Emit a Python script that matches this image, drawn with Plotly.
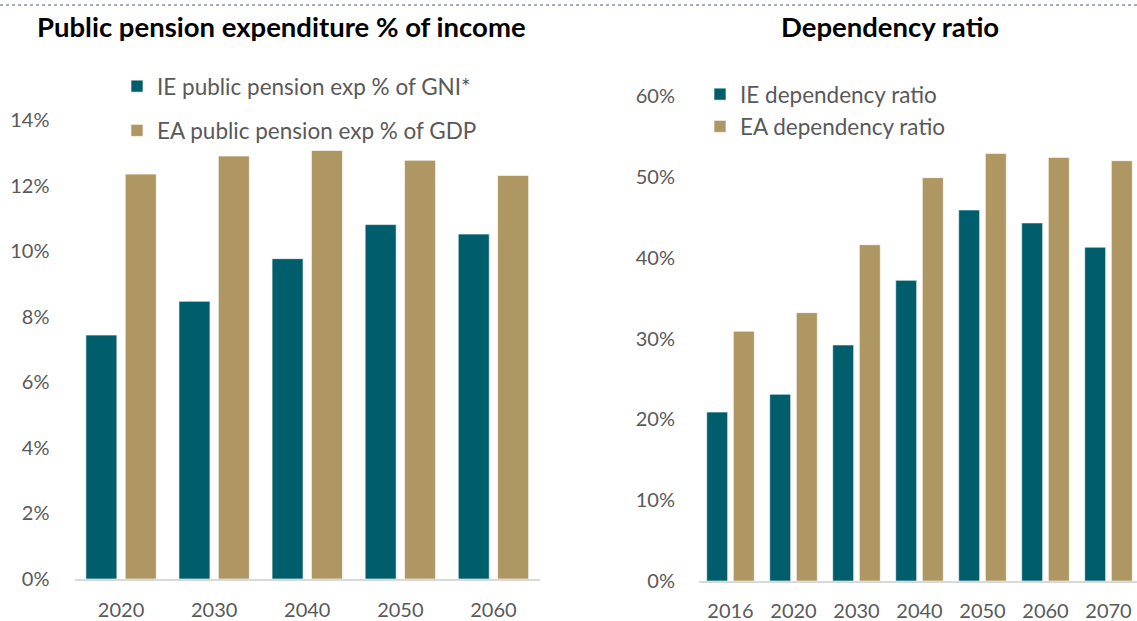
import plotly.graph_objects as go

# Public pension expenditure, % of national income
pension_years = ["2020", "2030", "2040", "2050", "2060"]
ie_pension_gni = [7.44, 8.47, 9.77, 10.81, 10.52]
ea_pension_gdp = [12.35, 12.90, 13.07, 12.77, 12.31]

# Old-age dependency ratio, %
dep_years = ["2016", "2020", "2030", "2040", "2050", "2060", "2070"]
ie_dependency = [20.9, 23.1, 29.2, 37.2, 45.9, 44.3, 41.3]
ea_dependency = [30.9, 33.2, 41.6, 49.9, 52.9, 52.4, 52.0]

pension_ticks = [0, 2, 4, 6, 8, 10, 12, 14]
dep_ticks = [0, 10, 20, 30, 40, 50, 60]

TEAL = "#005E6C"
GOLD = "#AE9762"
GREY_TXT = "#595959"
FONT = "Lato"

W, H = 1137, 621

BAR_W = 0.333
IE_OFF = -0.378
EA_OFF = 0.045

fig = go.Figure()

fig.add_trace(go.Bar(
    x=pension_years, y=ie_pension_gni, name="IE public pension exp % of GNI*",
    marker=dict(color=TEAL, line=dict(color="rgba(255,255,255,0.6)", width=1)),
    width=BAR_W, offset=IE_OFF, xaxis="x", yaxis="y",
    legend="legend", legendgroup="a",
))
fig.add_trace(go.Bar(
    x=pension_years, y=ea_pension_gdp, name="EA public pension exp % of GDP",
    marker=dict(color=GOLD, line=dict(color="rgba(255,255,255,0.6)", width=1)),
    width=BAR_W, offset=EA_OFF, xaxis="x", yaxis="y",
    legend="legend", legendgroup="b",
))
fig.add_trace(go.Bar(
    x=dep_years, y=ie_dependency, name="IE dependency ratio",
    marker=dict(color=TEAL, line=dict(color="rgba(255,255,255,0.6)", width=1)),
    width=BAR_W, offset=IE_OFF, xaxis="x2", yaxis="y2",
    legend="legend2", legendgroup="c",
))
fig.add_trace(go.Bar(
    x=dep_years, y=ea_dependency, name="EA dependency ratio",
    marker=dict(color=GOLD, line=dict(color="rgba(255,255,255,0.6)", width=1)),
    width=BAR_W, offset=EA_OFF, xaxis="x2", yaxis="y2",
    legend="legend2", legendgroup="d",
))

axis_common = dict(
    showgrid=False, zeroline=False, automargin=False,
    tickfont=dict(family=FONT, size=20, color=GREY_TXT),
)

fig.update_layout(
    width=W, height=H,
    margin=dict(l=0, r=0, t=0, b=0, autoexpand=False),
    paper_bgcolor="white", plot_bgcolor="white",
    barmode="overlay",
    font=dict(family=FONT, color=GREY_TXT),
    xaxis=dict(
        domain=[74.5 / W, 540 / W], type="category", range=[-0.5, 4.5],
        showline=True, linecolor="#D9D9D9", linewidth=1.5,
        ticks="outside", ticklen=12, tickcolor="rgba(0,0,0,0)",
        anchor="y", **axis_common,
    ),
    yaxis=dict(
        domain=[1 - 579 / H, 1 - 120 / H], range=[0, 14],
        tickvals=pension_ticks, ticktext=[f"{v}%" for v in pension_ticks],
        showline=False, ticks="outside", ticklen=20, tickcolor="rgba(0,0,0,0)",
        anchor="x", **axis_common,
    ),
    xaxis2=dict(
        domain=[699 / W, 1.0], type="category", range=[-0.5, 6.5 - 3 / 63],
        showline=True, linecolor="#D9D9D9", linewidth=1.5,
        ticks="outside", ticklen=11, tickcolor="rgba(0,0,0,0)",
        anchor="y2", **axis_common,
    ),
    yaxis2=dict(
        domain=[1 - 581 / H, 1 - 96 / H], range=[0, 60],
        tickvals=dep_ticks, ticktext=[f"{v}%" for v in dep_ticks],
        showline=False, ticks="outside", ticklen=19, tickcolor="rgba(0,0,0,0)",
        anchor="x2", **axis_common,
    ),
    legend=dict(
        x=117 / W, y=1 - 65 / H, xanchor="left", yanchor="top",
        orientation="v", tracegroupgap=12,
        font=dict(family=FONT, size=22.5, color=GREY_TXT),
        bgcolor="rgba(0,0,0,0)",
    ),
    legend2=dict(
        x=700 / W, y=1 - 73 / H, xanchor="left", yanchor="top",
        orientation="v", tracegroupgap=0,
        font=dict(family=FONT, size=22.5, color=GREY_TXT),
        bgcolor="rgba(0,0,0,0)",
    ),
    annotations=[
        dict(text="<b>Public pension expenditure % of income</b>",
             x=281 / W, y=1 - 27 / H, xref="paper", yref="paper",
             xanchor="center", yanchor="middle", showarrow=False,
             font=dict(family=FONT, size=27.5, color="black")),
        dict(text="<b>Dependency ratio</b>",
             x=890 / W, y=1 - 27 / H, xref="paper", yref="paper",
             xanchor="center", yanchor="middle", showarrow=False,
             font=dict(family=FONT, size=27.5, color="black")),
    ],
    shapes=[
        dict(type="line", xref="paper", yref="paper",
             x0=0, x1=1, y0=1 - 5 / H, y1=1 - 5 / H,
             line=dict(color="#4A5A78", width=1, dash="dot")),
    ],
)

fig.write_html("out.html")
